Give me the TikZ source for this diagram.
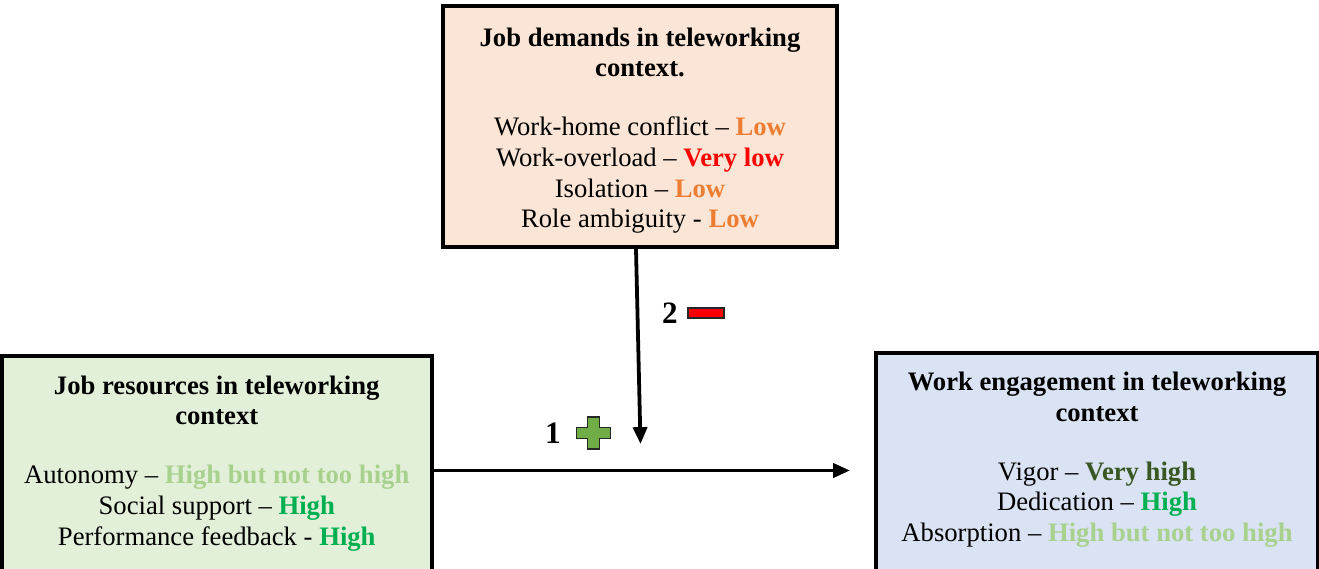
\documentclass[tikz,border=0pt]{standalone}
\usepackage{fontspec}
\setmainfont{Liberation Serif}
\usetikzlibrary{arrows.meta,positioning}
\definecolor{demfill}{HTML}{FBE5D6}
\definecolor{resfill}{HTML}{E2F0D9}
\definecolor{engfill}{HTML}{DAE3F3}
\definecolor{lowcol}{HTML}{ED7D31}
\definecolor{vlowcol}{HTML}{FF0000}
\definecolor{hnthcol}{HTML}{A9D18E}
\definecolor{highcol}{HTML}{00B050}
\definecolor{vhighcol}{HTML}{385723}
\definecolor{pluscol}{HTML}{70AD47}
\newcommand{\pxu}{0.45pt}
\newcommand{\lvl}[2]{\textcolor{#1}{\textbf{#2}}}
\tikzstyle{factor} = [rectangle, draw=black, line width=1.8pt, align=center,
                      inner xsep=0pt, inner ysep=19*\pxu,
                      font=\fontsize{12}{13.8}\selectfont]
\tikzstyle{arrow} = [line width=1.7pt,-{Triangle[length=7.6pt,width=6.3pt]}]
\tikzstyle{signlabel} = [font=\fontsize{14}{16}\selectfont\bfseries, inner sep=0pt]
\tikzstyle{sign} = [draw=black!85, line width=0.6pt]

\begin{document}
\begin{tikzpicture}[x=\pxu,y=-\pxu]
 \useasboundingbox (0,0) rectangle (1319,569);
 \node (dem) [factor,fill=demfill,inner ysep=0pt,minimum width=394*\pxu,minimum height=241*\pxu] at (640,126.5)
       {\rule{0pt}{12pt}\textbf{Job demands in teleworking}\\ \textbf{context.}\\[12.8pt]
        Work-home conflict -- \lvl{lowcol}{Low}\\
        Work-overload -- \lvl{vlowcol}{Very low}\\
        Isolation -- \lvl{lowcol}{Low}\\
        Role ambiguity - \lvl{lowcol}{Low}};
 \node (res) [factor,fill=resfill,anchor=north,minimum width=429.5*\pxu,text depth=220*\pxu] at (216.75,354.5)
       {\textbf{Job resources in teleworking}\\ \textbf{context}\\[12.8pt]
        Autonomy -- \lvl{hnthcol}{High but not too high}\\
        Social support -- \lvl{highcol}{High}\\
        Performance feedback - \lvl{highcol}{High}};
 \node (eng) [factor,fill=engfill,anchor=north,minimum width=442*\pxu,text depth=220*\pxu] at (1097,351)
       {\textbf{Work engagement in teleworking}\\ \textbf{context}\\[12.8pt]
        Vigor -- \lvl{vhighcol}{Very high}\\
        Dedication -- \lvl{highcol}{High}\\
        Absorption -- \lvl{hnthcol}{High but not too high}};
 % arrows
 \coordinate (maintip) at (850,470.5);
 \coordinate (modtip) at (640.5,444);
 \draw [arrow] (res.east |- maintip) -- (maintip);
 \draw [arrow] ([xshift=-4*\pxu]dem.south) -- (modtip);
 % signs
 \node (one) [signlabel] at (553,433) {1};
 \node (two) [signlabel] at (670,313) {2};
 \filldraw [sign,fill=pluscol] (587.5,417) -- (599.5,417) -- (599.5,427.5) -- (610.5,427.5)
   -- (610.5,438.5) -- (599.5,438.5) -- (599.5,449) -- (587.5,449) -- (587.5,438.5)
   -- (576.5,438.5) -- (576.5,427.5) -- (587.5,427.5) -- cycle;
 \filldraw [sign,fill=vlowcol] (688,308) rectangle (724,318);
\end{tikzpicture}
\end{document}
